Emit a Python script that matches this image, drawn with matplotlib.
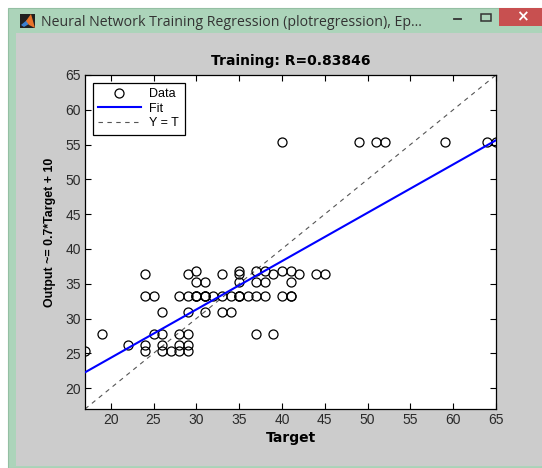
import numpy as np
import matplotlib
matplotlib.use("Agg")
import matplotlib.pyplot as plt
from matplotlib.patches import Rectangle, Polygon
from matplotlib.lines import Line2D

# data (target, output)
target = [40, 49, 51, 52, 59, 64, 65,
          30, 35, 37, 38, 40, 41,
          24, 29, 33, 35, 39, 42, 44, 45,
          30, 31, 35, 37, 38, 41,
          24, 25, 28, 29, 30, 30, 30, 31, 31, 31, 32, 33, 34, 35, 35, 35, 36, 37, 38, 40, 41, 41,
          26, 29, 31, 33, 34,
          19, 25, 26, 28, 29, 37, 39,
          22, 24, 26, 28, 29,
          17, 24, 26, 27, 28, 29]
output = [55.4] * 7 + [36.9] * 6 + [36.4] * 8 + [35.3] * 6 + [33.2] * 22 + \
         [31.0] * 5 + [27.8] * 7 + [26.2] * 5 + [25.4] * 6

fit_slope = 0.695
fit_intercept = 10.45
r_value = 0.83846
lims = [17, 65]
ticks = [20, 25, 30, 35, 40, 45, 50, 55, 60, 65]

W, H = 542, 468
fig = plt.figure(figsize=(W / 100, H / 100), dpi=100)
fig.patch.set_facecolor("white")

def fx(px):
    return px / W

def fy(py):
    return 1 - py / H

def box(x0, y0, x1, y1, **kw):
    # rectangle in image pixel coords (y from top), drawn behind the axes
    r = Rectangle((fx(x0), fy(y1)), (x1 - x0) / W, (y1 - y0) / H,
                  transform=fig.transFigure, zorder=-5, **kw)
    fig.patches.append(r)

# window chrome
box(8, 8, 542, 468, facecolor="#acd4ba", edgecolor="#94bfa3", lw=0.8)
box(16, 33, 542, 466, facecolor="#cccccc", edgecolor="none")
box(499, 8, 542, 26, facecolor="#c85050", edgecolor="none")
fig.text(fx(522), fy(17), "\u00d7", color="white", fontsize=11, ha="center", va="center",
         fontweight="bold")
box(481, 14, 491, 21, facecolor="none", edgecolor="#333333", lw=1.1)
fig.lines.append(Line2D([fx(454), fx(461)], [fy(19), fy(19)], transform=fig.transFigure,
                        color="#333333", lw=1.3))
# little matlab icon
box(20, 14, 35, 28, facecolor="#202020", edgecolor="none")
fig.patches.append(Polygon([(fx(21), fy(25)), (fx(27), fy(20)), (fx(29), fy(24)), (fx(24), fy(27))],
                           closed=True, transform=fig.transFigure, facecolor="#3a7fd0", zorder=-4))
fig.patches.append(Polygon([(fx(26), fy(21)), (fx(31), fy(14)), (fx(35), fy(28)), (fx(29), fy(25))],
                           closed=True, transform=fig.transFigure, facecolor="#e8742a", zorder=-4))
fig.text(fx(41), fy(26), "Neural Network Training Regression (plotregression), Ep...",
         family="Open Sans", fontsize=10.2, color="#333333", va="baseline", ha="left")

ax = fig.add_axes([fx(85), fy(409), (496 - 85) / W, (409 - 75) / H])
ax.set_facecolor("white")

t = np.array(target, dtype=float)
o = np.array(output, dtype=float)
ax.plot(t, o, "o", mfc="none", mec="black", ms=6.5, mew=0.9, label="Data", zorder=3)
ax.plot(lims, [fit_slope * v + fit_intercept for v in lims], color="#0000ff", lw=1.5,
        label="Fit", zorder=4)
ax.plot(lims, lims, color="#555555", lw=0.8, ls=(0, (4, 4)), label="Y = T", zorder=2)

ax.set_xlim(lims)
ax.set_ylim(lims)
ax.set_xticks(ticks)
ax.set_yticks(ticks)
ax.tick_params(direction="in", top=True, right=True, length=4, width=0.8,
               labelsize=10, labelcolor="#2a2a2a", pad=3)
for lab in ax.get_xticklabels() + ax.get_yticklabels():
    lab.set_family("Liberation Sans")
for s in ax.spines.values():
    s.set_linewidth(0.9)

ax.set_title("Training: R=%.5f" % r_value, fontsize=10, fontweight="bold", pad=7)
ax.set_xlabel("Target", fontsize=10, fontweight="bold", labelpad=3)
ax.set_ylabel("Output ~= 0.7*Target + 10", fontsize=8.9, fontweight="bold",
              family=["Liberation Sans Narrow", "Liberation Sans"])
ax.yaxis.set_label_coords(-0.07, 0.53)

leg = ax.legend(loc="upper left", fancybox=False, shadow=False, framealpha=1,
                edgecolor="black", numpoints=1, handlelength=3.4, labelspacing=0.2,
                borderaxespad=0.6, borderpad=0.45, handletextpad=0.7,
                prop={"family": "Liberation Sans", "size": 9})
leg.get_frame().set_linewidth(0.9)

fig.savefig("out.png", dpi=100)
